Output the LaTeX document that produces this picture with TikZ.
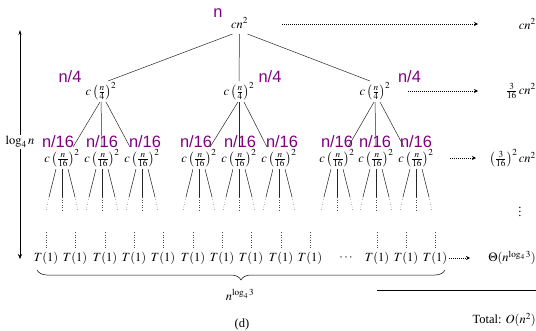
\documentclass[tikz,border=0pt]{standalone}
\usepackage{mathptmx}
\usepackage[no-math]{fontspec}
\setmainfont{Liberation Serif}
\newfontfamily\labelfont{Liberation Sans}
\usetikzlibrary{arrows.meta,decorations.pathreplacing,calc}
\definecolor{labelpurple}{RGB}{128,0,128}
\begin{document}
\begin{tikzpicture}[x=1pt,y=-1pt,
		every node/.style={font=\fontsize{12.5}{15}\selectfont},
		size/.style={text=labelpurple,font=\labelfont\fontsize{16.4}{18}\selectfont,anchor=base,inner sep=0pt},
		sumlabel/.style={anchor=east,inner sep=0pt},
		edge/.style={black!85,line width=0.5pt},
		fade/.style={black!70,line width=0.5pt,dotted},
		sumarrow/.style={line width=1pt,densely dotted,-{Stealth[length=4pt,width=4pt]}}]
		\useasboundingbox (0,0) rectangle (536,330);

		% root and first level
		\node (root) at (239.5,23) {$cn^2$};
		\node[size] (sroot) at (218,17.5) {n};
		\foreach \x [count=\i] in {101,239,375}
			\node (a\i) at (\x,91) {$c\left(\frac{n}{4}\right)^2$};
		\foreach \x [count=\i] in {70,270,409.5}
			\node[size] (sa\i) at (\x,82) {n/4};
		\draw[edge] ($(root)+(-7,11)$) -- ($(a1)+(7,-10)$);
		\draw[edge] ($(root)+(0,11)$) -- ($(a2)+(0,-10)$);
		\draw[edge] ($(root)+(8,11)$) -- ($(a3)+(-5,-10)$);

		% second level
		\foreach \x [count=\i] in {62,102,142,199,239,279,337,376,416}
			\node (b\i) at (\x,158) {$c\left(\frac{n}{16}\right)^2$};
		\foreach \x [count=\i] in {58,102,145,196,240,282,337,375,416}
			\node[size] (sb\i) at (\x,147) {n/16};
		\foreach \i/\l/\m/\r in {1/1/2/3,2/4/5/6,3/7/8/9} {
			\draw[edge] ($(a\i)+(-1,11)$) -- ($(b\l)+(11,-11)$);
			\draw[edge] ($(a\i)+(0,11)$) -- ($(b\m)+(0,-11)$);
			\draw[edge] ($(a\i)+(5,11)$) -- ($(b\r)+(-12,-11)$);
		}

		% lower levels fading out
		\foreach \i in {1,...,9} {
			\draw[edge] ($(b\i)+(-6,11)$) -- ++(-7,28) coordinate (bl\i);
			\draw[edge] ($(b\i)+(0,11)$) -- ++(0,28) coordinate (bm\i);
			\draw[edge] ($(b\i)+(6,11)$) -- ++(7,28) coordinate (br\i);
			\draw[fade] (bl\i) -- ++(-3,14);
			\draw[fade] (bm\i) -- ++(0,14);
			\draw[fade] (br\i) -- ++(3,14);
		}

		% leaves
		\foreach \x [count=\i] in {46,75,105,134,163,193,222,251,281,310,377,406,435} {
			\node (t\i) at (\x,258) {$T(1)$};
			\draw[fade] (t\i) ++(0,-26) -- ++(0,16);
		}
		\node (dots) at (346,258) {$\cdots$};

		% costs per level
		\node[sumlabel] (s0) at (536,24) {$cn^2$};
		\node[sumlabel] (s1) at (536,91) {$\frac{3}{16}\,cn^2$};
		\node[sumlabel] (s2) at (536,158) {$\left(\frac{3}{16}\right)^2 cn^2$};
		\node (vd) at (520,209) {$\vdots$};
		\node[sumlabel] (s3) at (536,258) {$\Theta(n^{\log_4 3})$};
		\foreach \i/\y/\s/\e in {0/24/282/478,1/91/408/478,2/158/450/476,3/258/449/470} {
			\coordinate (r\i) at (\s,\y);
			\coordinate (q\i) at (\e,\y);
			\draw[sumarrow] (r\i) -- (q\i);
		}

		% height of the tree
		\coordinate (htop) at (20,30);
		\coordinate (hbot) at (20,259);
		\draw[line width=0.5pt,{Stealth[length=5pt,width=3pt]}-{Stealth[length=5pt,width=4pt]}] (htop) -- (hbot);
		\node[fill=white,inner sep=1pt] (height) at (20,142) {$\log_4 n$};

		% number of leaves
		\coordinate (wl) at (37,270);
		\coordinate (wr) at (445,270);
		\draw[line width=0.5pt,decorate,decoration={brace,mirror,amplitude=10pt}] (wl) -- (wr);
		\node (width) at (240,295) {$n^{\log_4 3}$};

		% total
		\coordinate (sl) at (377,290);
		\coordinate (sr) at (536,290);
		\draw[line width=0.5pt] (sl) -- (sr);
		\node[sumlabel] (total) at (536,320) {Total: $O(n^2)$};
		\node (caption) at (242,324) {(d)};
	\end{tikzpicture}
\end{document}
